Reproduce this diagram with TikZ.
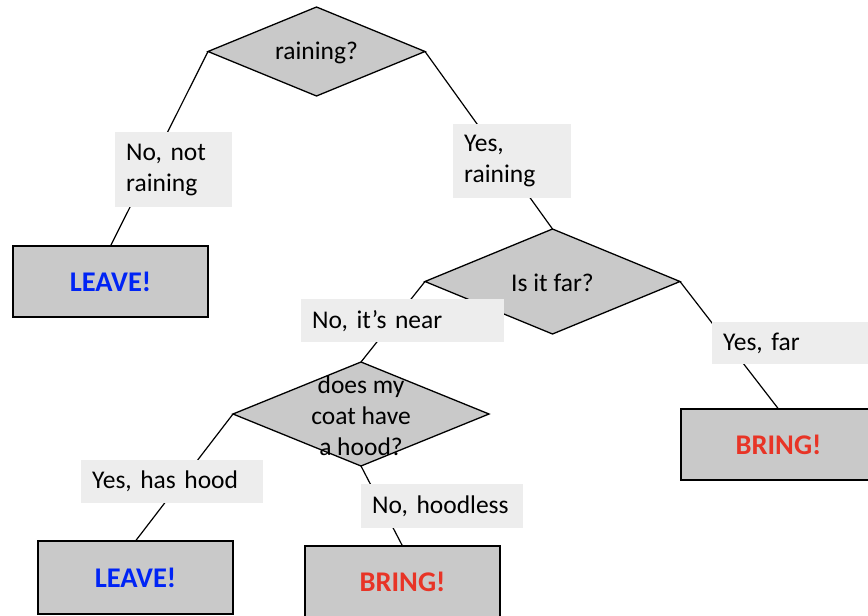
\documentclass[tikz,border=0pt]{standalone}
\usepackage{fontspec}
\setmainfont{Carlito}
\frenchspacing
\usetikzlibrary{shapes.geometric,shadows}
\definecolor{dfill}{RGB}{201,201,201}
\definecolor{lfill}{RGB}{237,237,237}
\definecolor{leaveblue}{RGB}{0,36,245}
\definecolor{bringred}{RGB}{232,52,38}
\tikzset{
  decision/.style={diamond, draw=black, fill=dfill, line width=1.3pt, inner sep=0pt, outer sep=0pt},
  dtext/.style={align=center, inner sep=0pt, font=\fontsize{25.5}{31}\selectfont},
  endbox/.style={rectangle, draw=black, fill=dfill, line width=1.8pt, minimum width=195pt,
    minimum height=71pt, inner sep=0pt, outer sep=0pt, font=\fontsize{28.5}{34}\selectfont\bfseries,
    drop shadow={shadow xshift=1.2pt, shadow yshift=-1.2pt, opacity=0.35}},
  edgelabel/.style={rectangle, fill=lfill, anchor=north west, inner xsep=11pt, inner ysep=0pt,
    align=left, font=\fontsize{25.5}{31}\selectfont},
  conn/.style={line width=1.2pt, black}
}
\begin{document}
\begin{tikzpicture}[x=1pt, y=-1pt]
\useasboundingbox (0,0) rectangle (868,616);
\clip (0,0) rectangle (868,616);
% decisions
\node[decision, minimum width=217pt, minimum height=89pt] (d1) at (316.5,51.5) {};
\node[decision, minimum width=255pt, minimum height=105pt] (d2) at (552.5,281.5) {};
\node[decision, minimum width=256pt, minimum height=104pt] (d3) at (361,414) {};
% end boxes
\node[endbox, text=leaveblue] (leave1) at (110.5,281.5) {LEAVE!};
\node[endbox, text=bringred] (bring1) at (778.5,444.5) {BRING!};
\node[endbox, text=leaveblue, minimum height=73pt] (leave2) at (135.5,577.5) {LEAVE!};
\node[endbox, text=bringred, minimum height=72pt] (bring2) at (402.5,582) {BRING!};
% connectors
\draw[conn] (d1.west) -- (leave1.north);
\draw[conn] (d1.east) -- (d2.north);
\draw[conn] (d2.west) -- (d3.north);
\draw[conn] (d2.east) -- (bring1.north);
\draw[conn] (d3.west) -- (leave2.north);
\draw[conn] (d3.south) -- (bring2.north);
% edge labels
\node[edgelabel, text width=95pt, minimum height=75pt] (l1) at (115,132) {No, not\\raining};
\node[edgelabel, text width=96pt, minimum height=74pt] (l2) at (453,124) {Yes,\\raining};
\node[edgelabel, text width=181pt, minimum height=43pt] (l3) at (301,299) {No, it’s near};
\node[edgelabel, text width=148pt, minimum height=42pt] (l4) at (712,322) {Yes, far};
\node[edgelabel, text width=160pt, minimum height=43pt] (l5) at (81,460) {Yes, has hood};
\node[edgelabel, text width=140pt, minimum height=44pt] (l6) at (361,484) {No, hoodless};
% decision texts
\node[dtext] (t1) at (316.5,53) {raining?};
\node[dtext] (t2) at (552.5,283) {Is it far?};
\node[dtext] (t3) at (361,416) {does my\\coat have\\a hood?};
\end{tikzpicture}
\end{document}
